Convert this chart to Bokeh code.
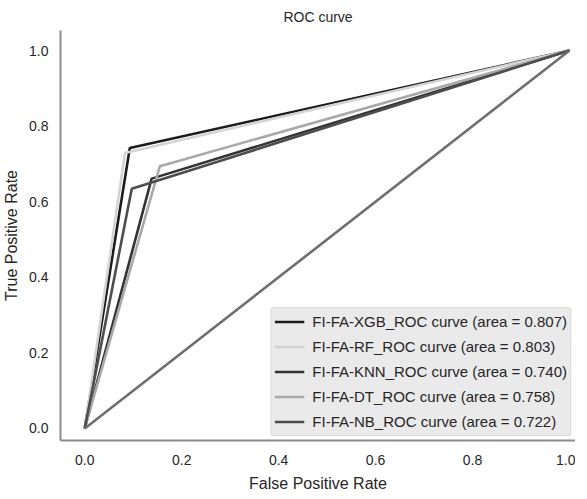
from bokeh.plotting import figure
from bokeh.models import Range1d, FixedTicker, PrintfTickFormatter, Legend, LegendItem
from bokeh.embed import file_html
from bokeh.resources import INLINE

# ROC data (single operating point curves)
models = ["FI-FA-XGB", "FI-FA-RF", "FI-FA-KNN", "FI-FA-DT", "FI-FA-NB"]
aucs = [0.807, 0.803, 0.740, 0.758, 0.722]
fpr_xgb = [0.0, 0.093, 1.0]
tpr_xgb = [0.0, 0.742, 1.0]
fpr_rf = [0.0, 0.083, 1.0]
tpr_rf = [0.0, 0.729, 1.0]
fpr_knn = [0.0, 0.138, 1.0]
tpr_knn = [0.0, 0.661, 1.0]
fpr_dt = [0.0, 0.155, 1.0]
tpr_dt = [0.0, 0.694, 1.0]
fpr_nb = [0.0, 0.097, 1.0]
tpr_nb = [0.0, 0.634, 1.0]
diag_x = [0.0, 1.0]
diag_y = [0.0, 1.0]
ticks = [0.0, 0.2, 0.4, 0.6, 0.8, 1.0]

colors = ["#1c1c1c", "#d4d4d4", "#333333", "#a9a9a9", "#4d4d4d"]
curves = [(fpr_xgb, tpr_xgb), (fpr_rf, tpr_rf), (fpr_knn, tpr_knn),
          (fpr_dt, tpr_dt), (fpr_nb, tpr_nb)]

FONT = "Liberation Sans"
TXT = "#262626"

p = figure(frame_width=515, frame_height=410, output_backend="svg", toolbar_location=None,
           x_range=Range1d(-0.05, 1.0124), y_range=Range1d(-0.032, 1.053),
           min_border_left=56, min_border_right=0, min_border_top=25,
           min_border_bottom=40, title="ROC curve")
p.outline_line_color = None
p.xgrid.visible = False
p.ygrid.visible = False
p.background_fill_color = "white"

p.title.align = "center"
p.title.text_font = FONT
p.title.text_font_size = "14px"
p.title.text_font_style = "normal"
p.title.text_color = TXT
p.title.standoff = 12

for ax in (p.xaxis[0], p.yaxis[0]):
    ax.ticker = FixedTicker(ticks=ticks)
    ax.formatter = PrintfTickFormatter(format="%.1f")
    ax.major_tick_line_color = None
    ax.minor_tick_line_color = None
    ax.major_tick_out = 0
    ax.major_tick_in = 0
    ax.minor_tick_out = 0
    ax.axis_line_color = "#8c8c8c"
    ax.axis_line_width = 2
    ax.major_label_text_font = FONT
    ax.major_label_text_font_size = "14px"
    ax.major_label_text_color = TXT
    ax.axis_label_text_font = FONT
    ax.axis_label_text_font_size = "16px"
    ax.axis_label_text_font_style = "normal"
    ax.axis_label_text_color = TXT

p.xaxis.axis_label = "False Positive Rate"
p.yaxis.axis_label = "True Positive Rate"
p.xaxis.major_label_standoff = 14
p.xaxis.axis_label_standoff = 7
p.yaxis.major_label_standoff = 12
p.yaxis.axis_label_standoff = 6

items = []
for name, auc, (fx, ty), c in zip(models, aucs, curves, colors):
    r = p.line(fx, ty, line_color=c, line_width=2.6)
    items.append(LegendItem(label="%s_ROC curve (area = %.3f)" % (name, auc), renderers=[r]))

p.line(diag_x, diag_y, line_color="#6e6e6e", line_width=2.6)

legend = Legend(items=items, location="bottom_right")
legend.label_text_font = FONT
legend.label_text_font_size = "15px"
legend.label_text_color = TXT
legend.background_fill_color = "#eaeaea"
legend.background_fill_alpha = 1.0
legend.border_line_color = "#cccccc"
legend.border_line_width = 1
legend.border_radius = 3
legend.glyph_width = 30
legend.glyph_height = 21
legend.label_height = 21
legend.label_standoff = 8
legend.spacing = 4
legend.padding = 3
legend.margin = 4
p.add_layout(legend)

open("out.html", "w").write(file_html(p, INLINE))
